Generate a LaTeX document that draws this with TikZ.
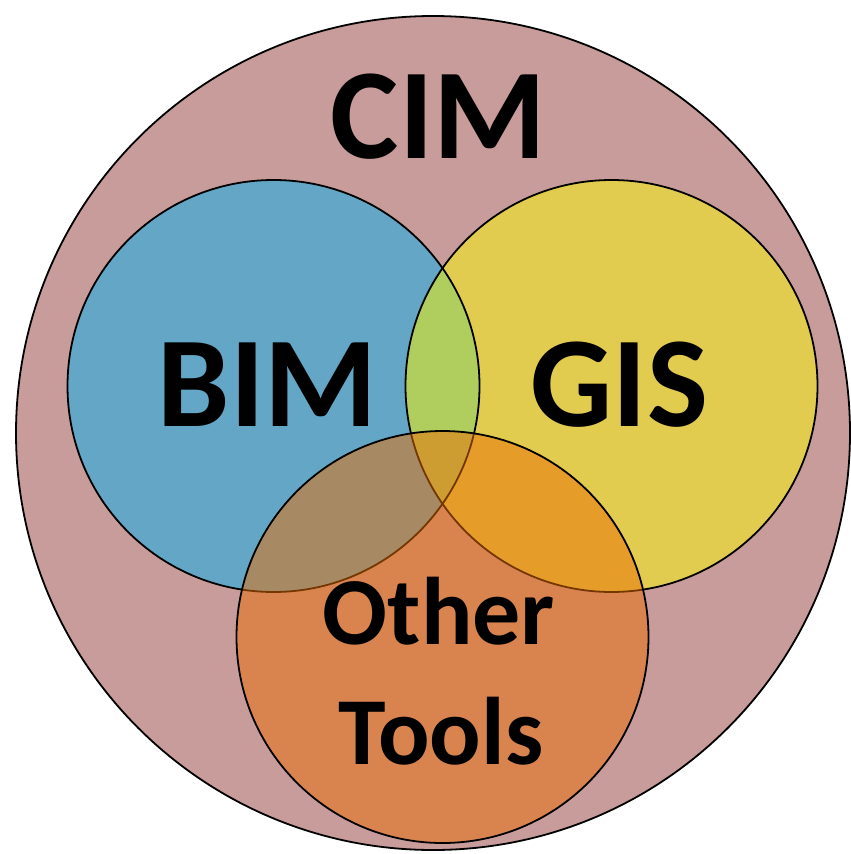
\documentclass[tikz,border=0pt]{standalone}
\usepackage{fontspec}
\setmainfont{Carlito}
\definecolor{cimfill}{RGB}{200,156,154}
\definecolor{bimfill}{RGB}{99,166,197}
\definecolor{gisfill}{RGB}{225,204,79}
\definecolor{lensfill}{RGB}{176,206,94}
\definecolor{othfill}{RGB}{235,110,5}
\begin{document}
\begin{tikzpicture}[x=1pt,y=-1pt,line width=1.8pt,
  lbl/.style={inner sep=0pt,anchor=base,text=black},
  bigtext/.style={font=\fontsize{129}{129}\selectfont\bfseries},
  smalltext/.style={font=\fontsize{96}{96}\selectfont\bfseries}]
\useasboundingbox (0,0) rectangle (851,854);
% centres of the four sets
\coordinate (cimc) at (433,433);
\coordinate (bimc) at (273.5,386);
\coordinate (gisc) at (611.5,386);
\coordinate (othc) at (442.5,637);
% outer CIM disc
\fill[cimfill] (cimc) circle[radius=417pt];
% BIM and GIS discs with their common lens
\fill[bimfill] (bimc) circle[radius=206pt];
\fill[gisfill] (gisc) circle[radius=206pt];
\begin{scope}
  \clip (bimc) circle[radius=206pt];
  \fill[lensfill] (gisc) circle[radius=206pt];
\end{scope}
\draw (bimc) circle[radius=206pt];
\draw (gisc) circle[radius=206pt];
% translucent "Other Tools" disc on top
\fill[othfill,fill opacity=0.5] (othc) circle[radius=206pt];
\draw (othc) circle[radius=206pt];
\draw (cimc) circle[radius=417pt];
% labels
\node[lbl,bigtext] (cim) at (438.5,158) {CIM};
\node[lbl,bigtext] (bim) at (267.5,426) {BIM};
\node[lbl,bigtext] (gis) at (619.5,426) {GIS};
\node[lbl,smalltext] (other) at (439,644) {Other};
\node[lbl,smalltext] (tools) at (441,764) {Tools};
\end{tikzpicture}
\end{document}
